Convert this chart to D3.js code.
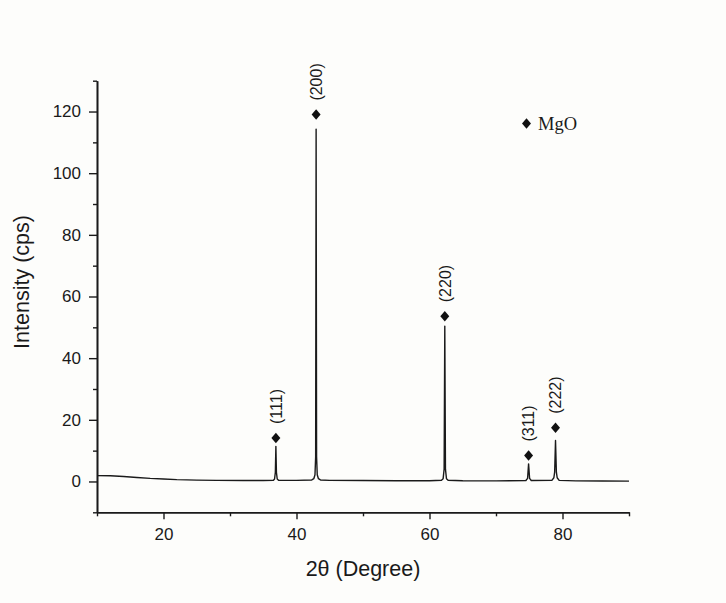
<!DOCTYPE html>
<html>
<head>
<meta charset="utf-8">
<script src="https://cdn.jsdelivr.net/npm/d3@7"></script>
<style>
  body { margin: 0; background: #fdfdfb; }
  text { font-family: "Liberation Sans", Arial, sans-serif; fill: #1a1a1a; }
</style>
</head>
<body>
<div id="chart"></div>
<script>
// XRD pattern
const twoTheta = [
  10, 12, 14, 16, 18, 20, 22, 25, 28, 32, 35, 36.5,
  36.7, 36.82, 36.9, 36.98, 37.1, 37.3,
  40, 42.3, 42.6, 42.78, 42.88, 42.95, 43.02, 43.12, 43.3, 43.6, 45,
  50, 55, 60, 61.8, 62.05, 62.2, 62.3, 62.4, 62.55, 62.8, 65, 70,
  74.5, 74.75, 74.9, 75.05, 75.3,
  78.4, 78.7, 78.82, 78.95, 79.08, 79.2, 79.5, 82, 86, 90
];
const intensity = [
  1.9, 1.85, 1.6, 1.3, 1.0, 0.8, 0.6, 0.45, 0.35, 0.3, 0.3, 0.35,
  0.8, 3, 11.4, 3, 0.8, 0.4,
  0.35, 0.5, 0.9, 2.2, 8, 114.3, 8, 2.2, 0.9, 0.5, 0.35,
  0.3, 0.25, 0.25, 0.4, 0.9, 4, 50.4, 4, 0.9, 0.4, 0.25, 0.2,
  0.3, 1, 5.7, 1, 0.3,
  0.35, 1.2, 3, 13.3, 3, 1.2, 0.35, 0.2, 0.15, 0.1
];

// MgO reflections
const peakPos = [36.9, 42.95, 62.3, 74.9, 78.95];
const peakMarker = [14.1, 119, 53.6, 8.4, 17.4];
const peakLabels = ['(111)', '(200)', '(220)', '(311)', '(222)'];

const xMajor = [20, 40, 60, 80];
const xMinor = [10, 30, 50, 70, 90];
const yMajor = [0, 20, 40, 60, 80, 100, 120];
const yMinor = [-10, 10, 30, 50, 70, 90, 110, 130];

const legendLabel = 'MgO';

const W = 726;
const H = 603;

const x = d3.scaleLinear().domain([10, 90]).range([97, 629]);
const y = d3.scaleLinear().domain([-10, 130]).range([512.3, 80.7]);

// diamond a bit taller than wide
const diamond = {
  draw(ctx, size) {
    const h = Math.sqrt(size) * 0.62;
    const w = h * 0.85;
    ctx.moveTo(0, -h);
    ctx.lineTo(w, 0);
    ctx.lineTo(0, h);
    ctx.lineTo(-w, 0);
    ctx.closePath();
  },
};

const svg = d3.select('#chart')
  .append('svg')
  .attr('width', W)
  .attr('height', H);

svg.append('rect')
  .attr('width', W)
  .attr('height', H)
  .attr('fill', '#fdfdfb');

const axisStyle = (g) => {
  g.select('.domain').attr('stroke', '#1a1a1a').attr('stroke-width', 1.6);
  g.selectAll('.tick line').attr('stroke', '#1a1a1a').attr('stroke-width', 1.4);
  g.selectAll('text').attr('font-size', 17).attr('fill', '#1a1a1a')
    .attr('font-family', '"Liberation Sans", Arial, sans-serif');
};

// minor ticks
svg.append('g')
  .attr('transform', `translate(0, ${y(-10)})`)
  .call(d3.axisBottom(x).tickValues(xMinor).tickSize(4).tickSizeOuter(0).tickFormat(''))
  .call(axisStyle);

svg.append('g')
  .attr('transform', `translate(${x(10)}, 0)`)
  .call(d3.axisLeft(y).tickValues(yMinor).tickSize(4).tickSizeOuter(0).tickFormat(''))
  .call(axisStyle);

// major ticks
svg.append('g')
  .attr('transform', `translate(0, ${y(-10)})`)
  .call(d3.axisBottom(x).tickValues(xMajor).tickSize(7).tickPadding(9).tickSizeOuter(0))
  .call(axisStyle);

svg.append('g')
  .attr('transform', `translate(${x(10)}, 0)`)
  .call(d3.axisLeft(y).tickValues(yMajor).tickSize(8).tickPadding(8).tickSizeOuter(0))
  .call(axisStyle);

// pattern
const pts = twoTheta.map((t, i) => [t, intensity[i]]);

const line = d3.line()
  .x(d => x(d[0]))
  .y(d => y(d[1]));

svg.append('path')
  .attr('d', line(pts))
  .attr('fill', 'none')
  .attr('stroke', '#1a1a1a')
  .attr('stroke-width', 1.4)
  .attr('stroke-linejoin', 'round');

// peak markers + labels
const sym = d3.symbol().type(diamond).size(72);

svg.selectAll('.marker')
  .data(peakPos)
  .join('path')
  .attr('class', 'marker')
  .attr('d', sym)
  .attr('transform', (d, i) => `translate(${x(d)}, ${y(peakMarker[i])})`)
  .attr('fill', '#111');

svg.selectAll('.hkl')
  .data(peakPos)
  .join('text')
  .attr('class', 'hkl')
  .attr('transform', (d, i) => `translate(${x(d)}, ${y(peakMarker[i]) - 14}) rotate(-90)`)
  .attr('dy', '0.36em')
  .attr('font-size', 16)
  .text((d, i) => peakLabels[i]);

// legend
svg.append('path')
  .attr('d', sym)
  .attr('transform', 'translate(526.5, 123.5)')
  .attr('fill', '#111');

svg.append('text')
  .attr('x', 538)
  .attr('y', 129.5)
  .attr('font-size', 18.5)
  .style('font-family', '"Liberation Serif", "Times New Roman", serif')
  .text(legendLabel);

// axis titles
svg.append('text')
  .attr('x', (x.range()[0] + x.range()[1]) / 2)
  .attr('y', 576)
  .attr('text-anchor', 'middle')
  .attr('font-size', 21.5)
  .text('2θ (Degree)');

svg.append('text')
  .attr('transform', 'translate(29, 282) rotate(-90)')
  .attr('text-anchor', 'middle')
  .attr('font-size', 21.5)
  .text('Intensity (cps)');
</script>
</body>
</html>
